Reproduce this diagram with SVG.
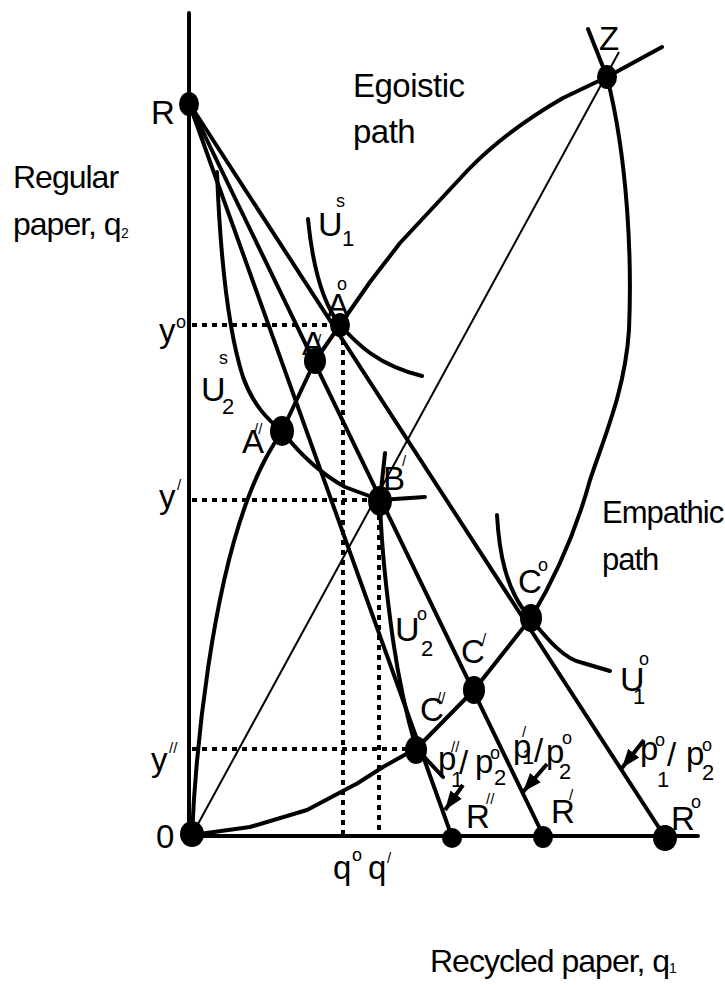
<svg xmlns="http://www.w3.org/2000/svg" width="725" height="985" viewBox="0 0 725 985">
<defs>
<style>
.ln{stroke:#000;stroke-width:4;fill:none;stroke-linecap:round;stroke-linejoin:round}
.thin{stroke:#000;stroke-width:2;fill:none}
.dash{stroke:#000;stroke-width:4;fill:none;stroke-dasharray:5 5}
.arr{stroke:#000;stroke-width:4;fill:none;marker-end:url(#ah)}
.dot{fill:#000}
text{font-family:"Liberation Sans",Arial,sans-serif;fill:#000}
.L{font-size:33px;letter-spacing:-1px}
.T{font-size:32px;letter-spacing:-1px}
.sup{font-size:18px}
.pr{font-size:15px}
.sub{font-size:22px}
.tiny{font-size:14px}
</style>
<marker id="ah" markerUnits="userSpaceOnUse" markerWidth="20" markerHeight="16" refX="19" refY="8" orient="auto">
<path d="M0,1 L19,8 L0,15 Z" fill="#000"/>
</marker>
</defs>
<rect width="725" height="985" fill="#fff"/>

<g id="axes">
<line class="ln" x1="189" y1="13" x2="189" y2="837"/>
<line class="ln" x1="189" y1="836" x2="698" y2="836"/>
</g>

<g id="connectors">
<path id="budget-o" class="ln" d="M189,103 L665,837"/>
<path id="budget-1" class="ln" d="M189,103 L544,837"/>
<path id="budget-2" class="ln" d="M189,103 L452,837"/>
<path id="ray-OZ" class="thin" d="M192,835 L619,52"/>
<path id="egoistic" class="ln" d="M192,835 C196,745 212,590 250,493 C262,462 272,447 282,431 L315,361 L340,325 L370,282 L400,243 L468,170 C495,142 525,120 563,98 L607,77 L662,47"/>
<path id="empathic" class="ln" d="M192,835 L250,827 L307,810 L358,783 L383,767 L417,748 L474,690 L531,618 C555,578 575,535 590,480 C605,435 625,390 629,330 C632,260 628,160 607,77 L588,29"/>
<path id="U1s" class="ln" d="M308,219 C312,260 320,300 340,325 C358,345 378,365 422,376"/>
<path id="U2s" class="ln" d="M217,172 C220,250 228,330 243,377 C253,405 268,420 282,431 C298,452 318,472 345,487 L380,500 L425,497"/>
<path id="U2o" class="ln" d="M385,453 L380,500 C381,540 386,590 393,640 C398,675 405,710 416,748 L443,777"/>
<path id="U1o" class="ln" d="M497,515 C499,550 505,590 530,618 C548,640 565,660 583,663 L610,671"/>
<path id="dash-yo" class="dash" d="M192,325 L340,325 M343,330 L343,836"/>
<path id="dash-y1" class="dash" d="M192,500 L380,500 M379,505 L379,836"/>
<path id="dash-y2" class="dash" d="M192,749 L416,749"/>
<path id="arrow-p2" class="arr" d="M463,785 L445,810"/>
<path id="arrow-p1" class="arr" d="M547,764 L523,792"/>
<path id="arrow-po" class="arr" d="M644,740 L622,768"/>
</g>

<g id="node-R"><ellipse class="dot" cx="189" cy="104" rx="10" ry="12"/><text class="L" x="151" y="124">R</text></g>
<g id="node-Z"><ellipse class="dot" cx="607" cy="77" rx="10" ry="12"/><text class="L" x="599" y="50">Z</text></g>
<g id="node-O"><ellipse class="dot" cx="192" cy="834" rx="12" ry="13"/><text class="L" x="156" y="848">0</text></g>
<g id="node-Ao"><ellipse class="dot" cx="340" cy="325" rx="10" ry="12"/><text class="L" x="327" y="317">A</text><text class="sup" x="337" y="290">o</text></g>
<g id="node-A1"><ellipse class="dot" cx="315" cy="361" rx="11" ry="13"/><text class="L" x="302" y="355">A</text><text class="pr" x="317" y="345">/</text></g>
<g id="node-A2"><ellipse class="dot" cx="282" cy="431" rx="12" ry="15"/><text class="L" x="242" y="453">A</text><text class="pr" x="254" y="434">//</text></g>
<g id="node-B1"><ellipse class="dot" cx="380" cy="501" rx="12" ry="15"/><text class="L" x="383" y="490">B</text><text class="pr" x="402" y="466">/</text></g>
<g id="node-Co"><ellipse class="dot" cx="531" cy="618" rx="11" ry="14"/><text class="L" x="518" y="593">C</text><text class="sup" x="538" y="571">o</text></g>
<g id="node-C1"><ellipse class="dot" cx="474" cy="690" rx="11" ry="14"/><text class="L" x="461" y="663">C</text><text class="pr" x="482" y="644">/</text></g>
<g id="node-C2"><ellipse class="dot" cx="416" cy="750" rx="11" ry="14"/><text class="L" x="420" y="721">C</text><text class="pr" x="437" y="703">//</text></g>
<g id="node-R2"><ellipse class="dot" cx="452" cy="838" rx="10" ry="10"/><text class="L" x="466" y="828">R</text><text class="pr" x="486" y="804">//</text></g>
<g id="node-R1"><ellipse class="dot" cx="543" cy="837" rx="10" ry="11"/><text class="L" x="551" y="823">R</text><text class="pr" x="569" y="800">/</text></g>
<g id="node-Ro"><ellipse class="dot" cx="665" cy="838" rx="12" ry="13"/><text class="L" x="671" y="830">R</text><text class="sup" x="691" y="808">o</text></g>

<g id="labels">
<text class="T" x="13" y="188">Regular</text>
<text class="T" x="13" y="235">paper, q</text><text class="tiny" x="121" y="238">2</text>
<text class="L" x="353" y="97" style="letter-spacing:-0.5px">Egoistic</text>
<text class="L" x="353" y="143" style="letter-spacing:-0.5px">path</text>
<text class="T" x="602" y="523" style="font-size:31px">Empathic</text>
<text class="T" x="602" y="570" style="font-size:31px">path</text>
<text class="T" x="430" y="972">Recycled paper, q</text><text class="tiny" x="669" y="973">1</text>

<text class="L" x="159" y="342">y</text><text class="sup" x="176" y="328">o</text>
<text class="L" x="159" y="508">y</text><text class="pr" x="177" y="490">/</text>
<text class="L" x="151" y="771">y</text><text class="pr" x="169" y="753">//</text>

<text class="L" x="333" y="879">q</text><text class="sup" x="352" y="861">o</text>
<text class="L" x="368" y="879">q</text><text class="pr" x="387" y="863">/</text>

<text class="L" x="318" y="236" style="font-size:34px">U</text><text class="sup" x="336" y="207">s</text><text class="sub" x="342" y="246">1</text>
<text class="L" x="201" y="401" style="font-size:34px">U</text><text class="sup" x="219" y="364">s</text><text class="sub" x="222" y="414">2</text>
<text class="L" x="395" y="641" style="font-size:34px">U</text><text class="sup" x="417" y="620">o</text><text class="sub" x="421" y="656">2</text>
<text class="L" x="620" y="691" style="font-size:34px">U</text><text class="sup" x="639" y="665">o</text><text class="sub" x="633" y="704">1</text>

<text class="L" x="438" y="770">p</text><text class="pr" x="451" y="752">//</text><text class="sub" x="451" y="787">1</text><text class="L" x="459" y="774">/</text><text class="L" x="475" y="773">p</text><text class="sup" x="490" y="759">o</text><text class="sub" x="494" y="785">2</text>
<text class="L" x="513" y="758">p</text><text class="pr" x="522" y="737">/</text><text class="sub" x="522" y="764">1</text><text class="L" x="534" y="762">/</text><text class="L" x="546" y="763">p</text><text class="sup" x="562" y="744">o</text><text class="sub" x="559" y="779">2</text>
<text class="L" x="640" y="760">p</text><text class="sup" x="655" y="746">o</text><text class="sub" x="657" y="787">1</text><text class="L" x="667" y="766">/</text><text class="L" x="686" y="765">p</text><text class="sup" x="702" y="751">o</text><text class="sub" x="702" y="780">2</text>
</g>
</svg>
